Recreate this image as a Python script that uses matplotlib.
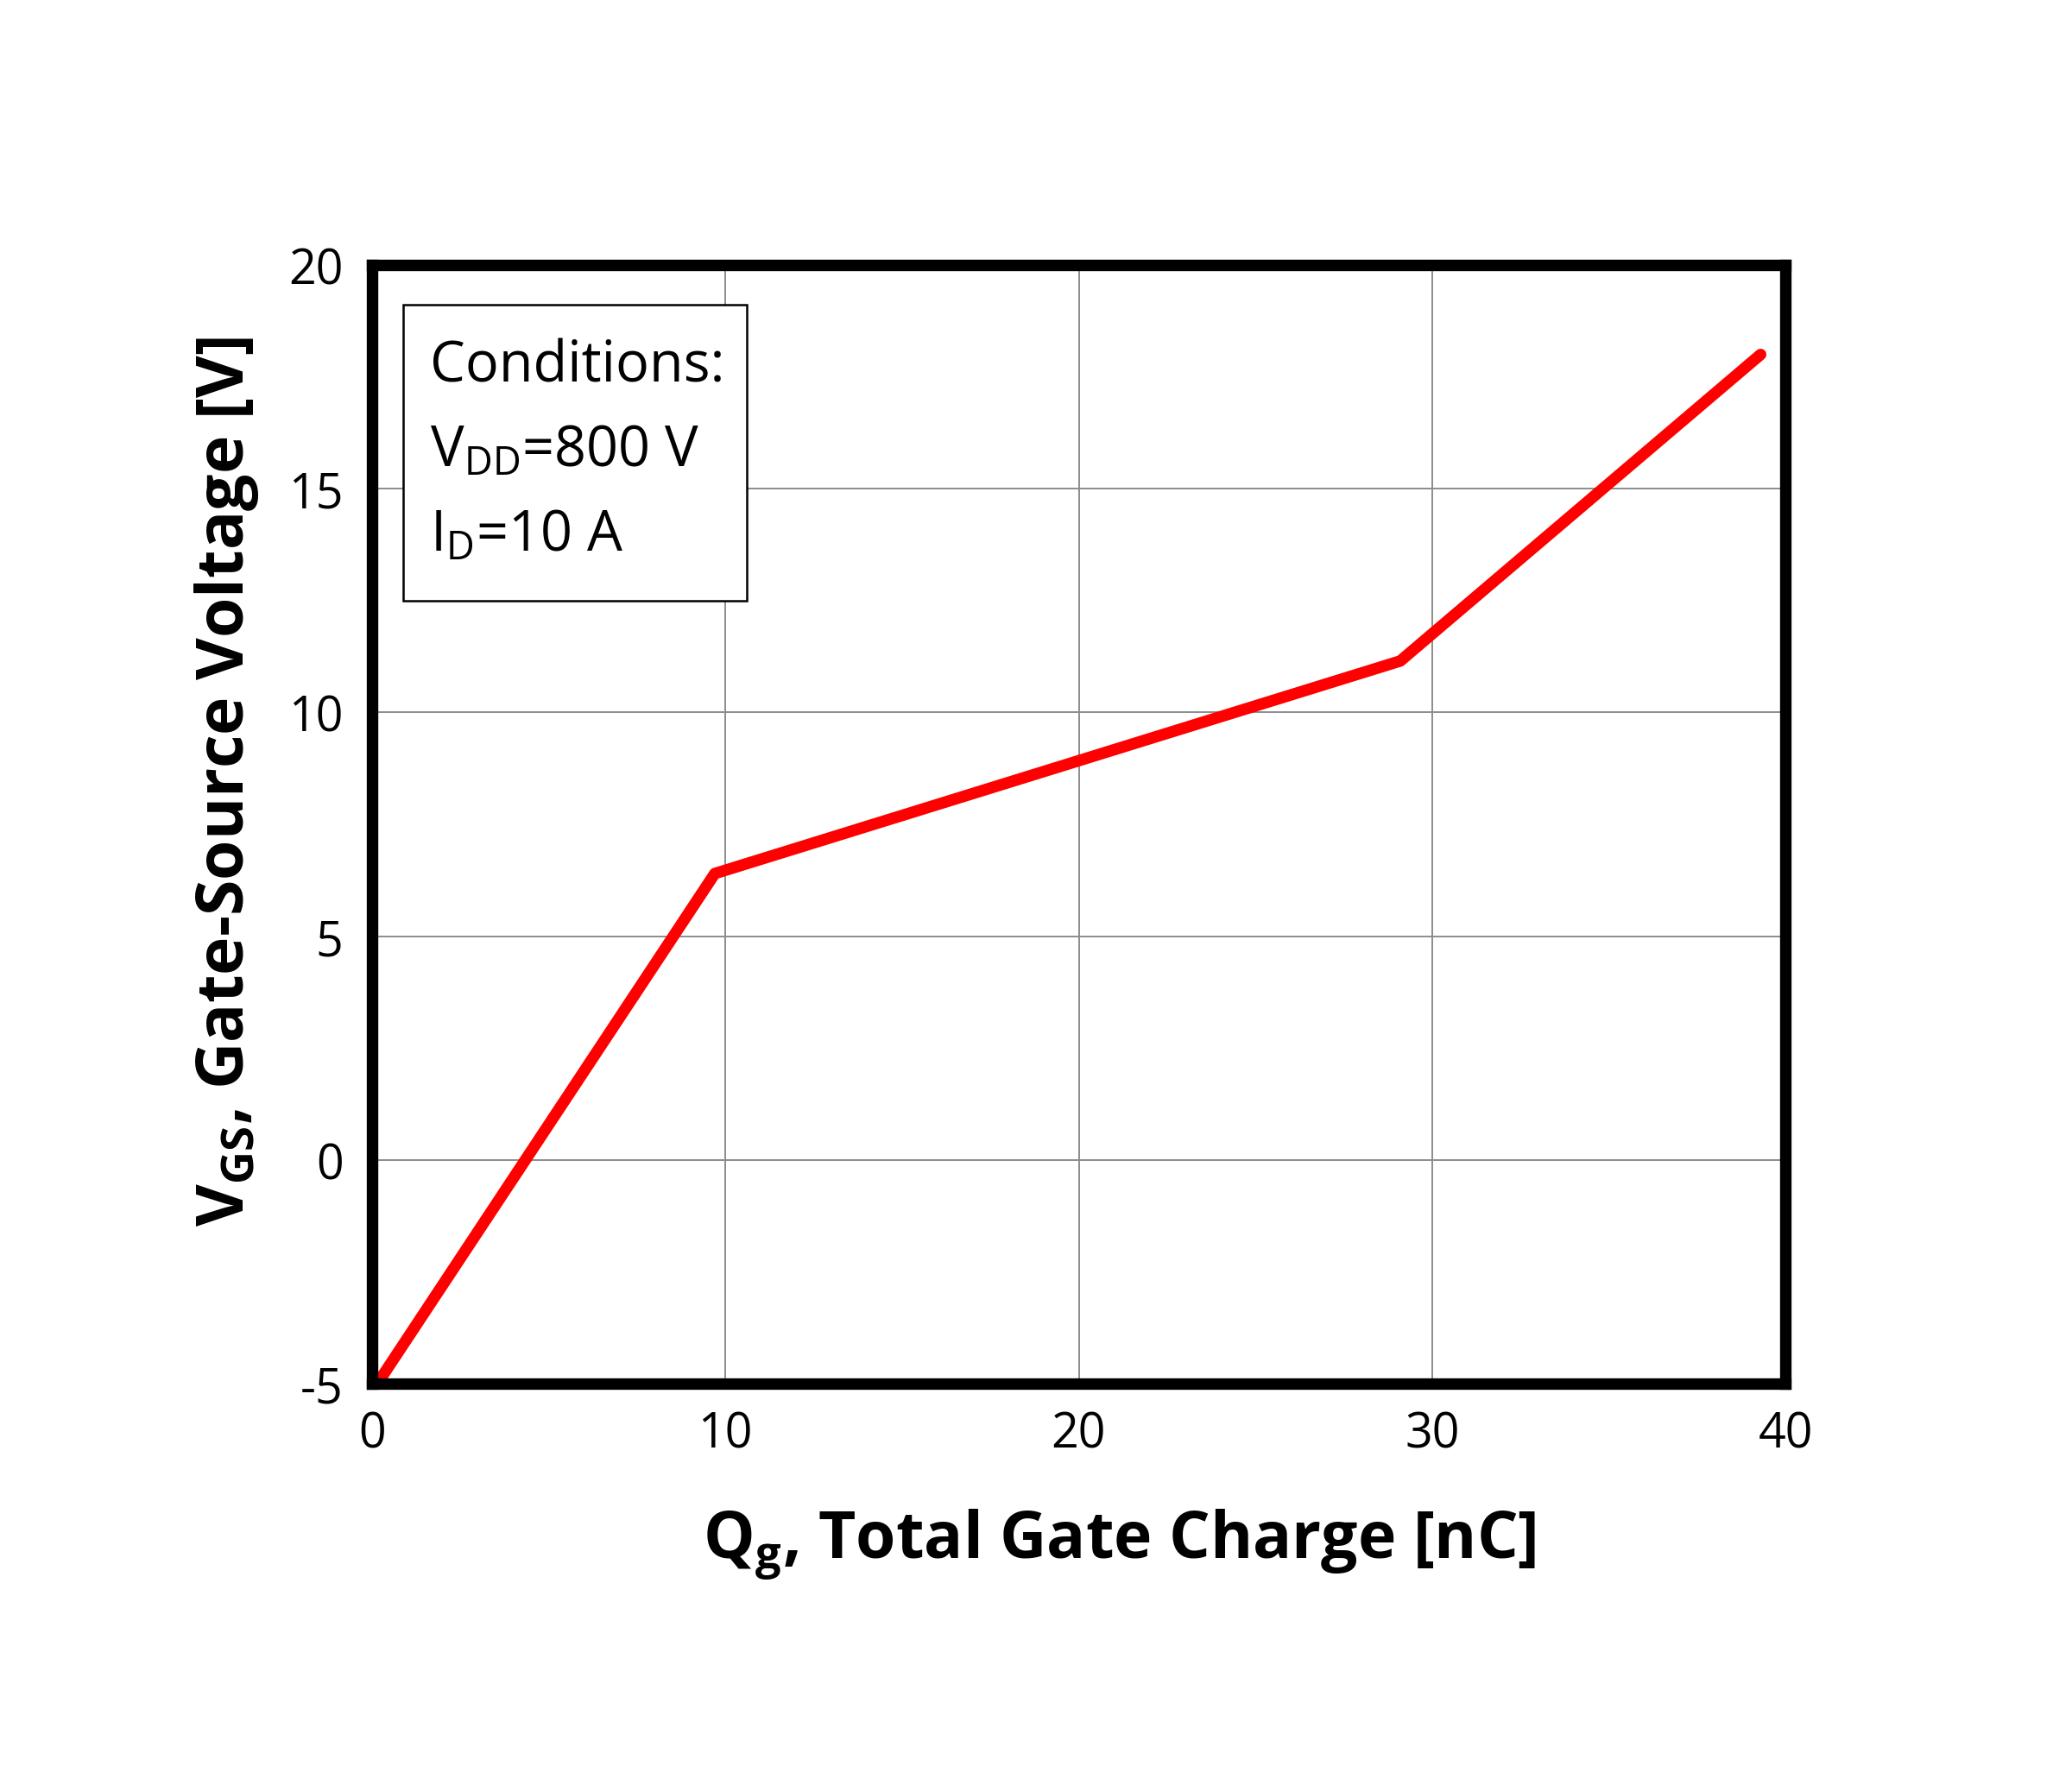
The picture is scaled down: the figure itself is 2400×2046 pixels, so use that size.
import matplotlib

matplotlib.use("Agg")
import matplotlib.pyplot as plt
from matplotlib.ticker import FuncFormatter

# gate charge curve
qg = [0.15, 9.7, 29.1, 39.3]
vgs = [-5.0, 6.4, 11.15, 18.0]

x_ticks = [0, 10, 20, 30, 40]
y_ticks = [-5, 0, 5, 10, 15, 20]

conditions = ["Conditions:", r"$\mathregular{V_{DD}}$=800 V", r"$\mathregular{I_D}$=10 A"]

plt.rcParams["font.family"] = ["Open Sans", "DejaVu Sans"]
plt.rcParams["mathtext.fontset"] = "custom"
plt.rcParams["mathtext.rm"] = "Open Sans"
plt.rcParams["mathtext.bf"] = "Open Sans:bold"

W, H = 2400, 2047
fig = plt.figure(figsize=(12, 10.2349), dpi=200)
ax = fig.add_axes([431 / W, 1 - 1604 / H, (2068 - 431) / W, (1604 - 308) / H])

ax.plot(qg, vgs, color="#ff0000", lw=4.8, solid_capstyle="round", solid_joinstyle="round", zorder=3)

ax.set_xlim(0, 40)
ax.set_ylim(-5, 20)
ax.set_xticks(x_ticks)
ax.set_yticks(y_ticks)
ax.yaxis.set_major_formatter(FuncFormatter(lambda v, _: f"{v:g}".replace("\u2212", "-")))
ax.tick_params(length=0, labelsize=20, pad=11)
ax.tick_params(axis="y", pad=12)
ax.grid(True, color="#8c8c8c", lw=0.7)
for s in ax.spines.values():
    s.set_linewidth(4.8)
    s.set_zorder(4)

fig.text(1297 / W, 1 - 1806 / H, r"$\mathbf{Q_g}$, Total Gate Charge [nC]",
         ha="center", va="baseline", fontsize=27, fontweight="bold")
fig.text(263 / W, 1 - 906 / H, r"$\mathbf{V_{GS}}$, Gate-Source Voltage [V]",
         ha="center", va="center", rotation=90, fontsize=27, fontweight="bold")

# conditions box
box = plt.Rectangle((467 / W, 1 - 697 / H), (865 - 467) / W, (697 - 354) / H,
                    transform=fig.transFigure, facecolor="white", edgecolor="black",
                    lw=0.9, zorder=5)
fig.add_artist(box)
for i, line in enumerate(conditions):
    fig.text(498 / W, 1 - (443 + i * 98) / H, line, fontsize=23.3,
             ha="left", va="baseline", zorder=6)

fig.savefig("out.png", dpi=200, facecolor="white")
